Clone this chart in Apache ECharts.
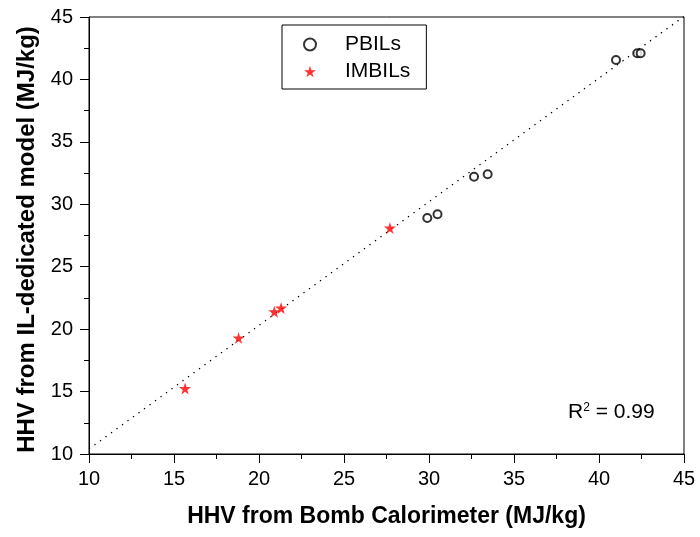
<!DOCTYPE html>
<html><head><meta charset="utf-8">
<script src="https://cdn.jsdelivr.net/npm/echarts@6/dist/echarts.min.js"></script>
<style>html,body{margin:0;padding:0;background:#fff}#c{width:700px;height:537px}</style>
</head><body><div id="c"></div>
<script>
const pbilX = [29.9, 30.5, 32.65, 33.45, 41.0, 42.25, 42.45];
const pbilY = [28.9, 29.2, 32.2, 32.4, 41.55, 42.1, 42.1];
const imbilX = [15.65, 18.8, 20.9, 21.3, 27.7];
const imbilY = [15.25, 19.3, 21.4, 21.7, 28.1];
const fitX = [10, 45];
const fitY = [10.4, 45.05];
const xTicks = [10, 15, 20, 25, 30, 35, 40, 45];
const yTicks = [10, 15, 20, 25, 30, 35, 40, 45];

const star = 'path://M50,0 L61,35 L98,35 L68,57 L79,91 L50,70 L21,91 L32,57 L2,35 L39,35 Z';
const font = 'Liberation Sans, Arial, sans-serif';
const chart = echarts.init(document.getElementById('c'));
chart.setOption({
  animation: false,
  backgroundColor: '#fff',
  grid: {left: 89, right: 16, top: 17, bottom: 83, show: true, borderColor: '#000', borderWidth: 1},
  legend: {
    orient: 'vertical', left: 282, top: 25,
    borderColor: '#000', borderWidth: 1, padding: [9, 16, 7, 21],
    itemGap: 6, itemWidth: 12, itemHeight: 12,
    textStyle: {fontFamily: font, fontSize: 21, color: '#000', padding: [0, 0, 0, 24]},
    data: [{name: 'PBILs', icon: 'emptyCircle'}, {name: 'IMBILs', icon: star}]
  },
  xAxis: {
    type: 'value', min: xTicks[0], max: xTicks[xTicks.length-1], interval: 5,
    name: 'HHV from Bomb Calorimeter (MJ/kg)', nameLocation: 'middle', nameGap: 51,
    nameTextStyle: {fontFamily: font, fontSize: 23, fontWeight: 'bold', color: '#000'},
    axisLine: {lineStyle: {color: '#000', width: 1}},
    axisTick: {inside: false, length: 9, lineStyle: {color: '#000'}},
    minorTick: {show: true, splitNumber: 2, length: 5, lineStyle: {color: '#000'}},
    axisLabel: {fontFamily: font, fontSize: 20, color: '#000', margin: 15},
    splitLine: {show: false}
  },
  yAxis: {
    type: 'value', min: yTicks[0], max: yTicks[yTicks.length-1], interval: 5,
    name: 'HHV from IL-dedicated model (MJ/kg)', nameLocation: 'middle', nameGap: 49,
    nameTextStyle: {fontFamily: font, fontSize: 24, fontWeight: 'bold', color: '#000', padding: [0, 8, 0, 0]},
    axisLine: {lineStyle: {color: '#000', width: 1}},
    axisTick: {inside: false, length: 9, lineStyle: {color: '#000'}},
    minorTick: {show: true, splitNumber: 2, length: 5, lineStyle: {color: '#000'}},
    axisLabel: {fontFamily: font, fontSize: 20, color: '#000', margin: 16},
    splitLine: {show: false}
  },
  series: [
    {
      name: 'fit', type: 'line', data: fitX.map((x, i) => [x, fitY[i]]),
      symbol: 'none', lineStyle: {color: '#000', width: 1.3, type: [1.3, 5.5]}, silent: true, z: 1
    },
    {
      name: 'PBILs', type: 'scatter', data: pbilX.map((x, i) => [x, pbilY[i]]),
      symbol: 'emptyCircle', symbolSize: 8,
      itemStyle: {color: '#000', borderColor: '#000', borderWidth: 1}, z: 3
    },
    {
      name: 'IMBILs', type: 'scatter', data: imbilX.map((x, i) => [x, imbilY[i]]),
      symbol: star, symbolSize: 12,
      itemStyle: {color: '#ff0000'}, z: 3
    }
  ],
  graphic: [{
    type: 'text', left: 568, top: 402,
    style: {
      text: '{r|R}{s|2}{r| = 0.99}',
      rich: {
        r: {fontFamily: font, fontSize: 21, fill: '#000', verticalAlign: 'bottom'},
        s: {fontFamily: font, fontSize: 12, fill: '#000', verticalAlign: 'top', padding: [0, 0, 9, 0]}
      }
    }
  }]
});
</script></body></html>
